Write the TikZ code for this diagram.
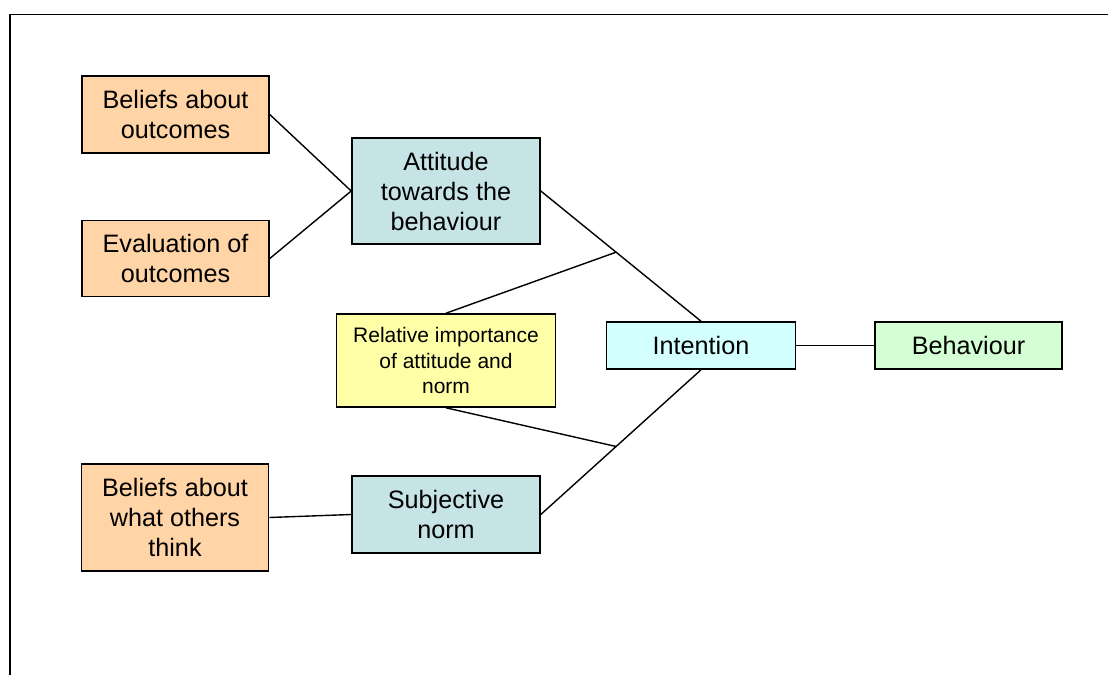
\documentclass[tikz,border=0pt]{standalone}
\usepackage{fontspec}
\setmainfont{Liberation Sans}
\usepackage{tikz}
\usetikzlibrary{calc}
\definecolor{peach}{HTML}{FFD4A6}
\definecolor{greyblue}{HTML}{C6E3E6}
\definecolor{paleyellow}{HTML}{FFFFA8}
\definecolor{palecyan}{HTML}{D4FFFF}
\definecolor{palegreen}{HTML}{D4FFD4}
\tikzset{
  box/.style={draw, line width=0.8pt, rectangle, align=center, inner sep=0pt,
    minimum width=93.5pt, font=\fontsize{12.6pt}{15pt}\selectfont},
  link/.style={line width=0.7pt}
}
\begin{document}
\begin{tikzpicture}[x=0.5pt, y=-0.5pt, node distance=72pt]
        \useasboundingbox (0,0) rectangle (1108,675);
        \draw[line width=0.9pt] (9.6,675) -- (9.6,14.5) -- (1108,14.5);
        \node [box, fill=peach, minimum height=38.5pt] at (175.5,114.5) (1) {Beliefs about\\outcomes};
        \node [box, fill=peach, minimum height=38pt, below of=1] (2) {Evaluation of\\outcomes};
        \node [box, fill=greyblue, minimum width=94pt, minimum height=53pt, right of=1, xshift=63.25pt, yshift=-38.25pt] (3) {Attitude\\towards the\\behaviour};
        \node [box, fill=paleyellow, minimum width=109.5pt, minimum height=46.5pt, below of=3, yshift=-12.75pt, font=\fontsize{10.5pt}{12.7pt}\selectfont] (4) {Relative importance\\of attitude and\\norm};
        \node [box, fill=palecyan, minimum width=94.5pt, minimum height=23.5pt, right of=4, xshift=55.5pt, yshift=7.5pt] (5) {Intention};
        \node [box, fill=palegreen, minimum height=23.5pt, right of=5, xshift=61.75pt] (6) {Behaviour};
        \node [box, fill=greyblue, minimum width=94pt, minimum height=38.5pt, below of=4, yshift=-5pt] (7) {Subjective\\norm};
        \node [box, fill=peach, minimum height=53.5pt, left of=7, xshift=-63.5pt, yshift=-1.5pt] (8) {Beliefs about\\what others\\think};
        \coordinate (j1) at ($(3.east)!0.47!(5.north)$);
        \coordinate (j2) at ($(7.east)!0.47!(5.south)$);
        \draw[link] (1.east) -- (3.west);
        \draw[link] (2.east) -- (3.west);
        \draw[link] (3.east) -- (5.north);
        \draw[link] (4.north) -- (j1);
        \draw[link] (4.south) -- (j2);
        \draw[link] (7.east) -- (5.south);
        \draw[link] (8.east) -- (7.west);
        \draw[link] (5.east) -- (6.west);
      \end{tikzpicture}
\end{document}
